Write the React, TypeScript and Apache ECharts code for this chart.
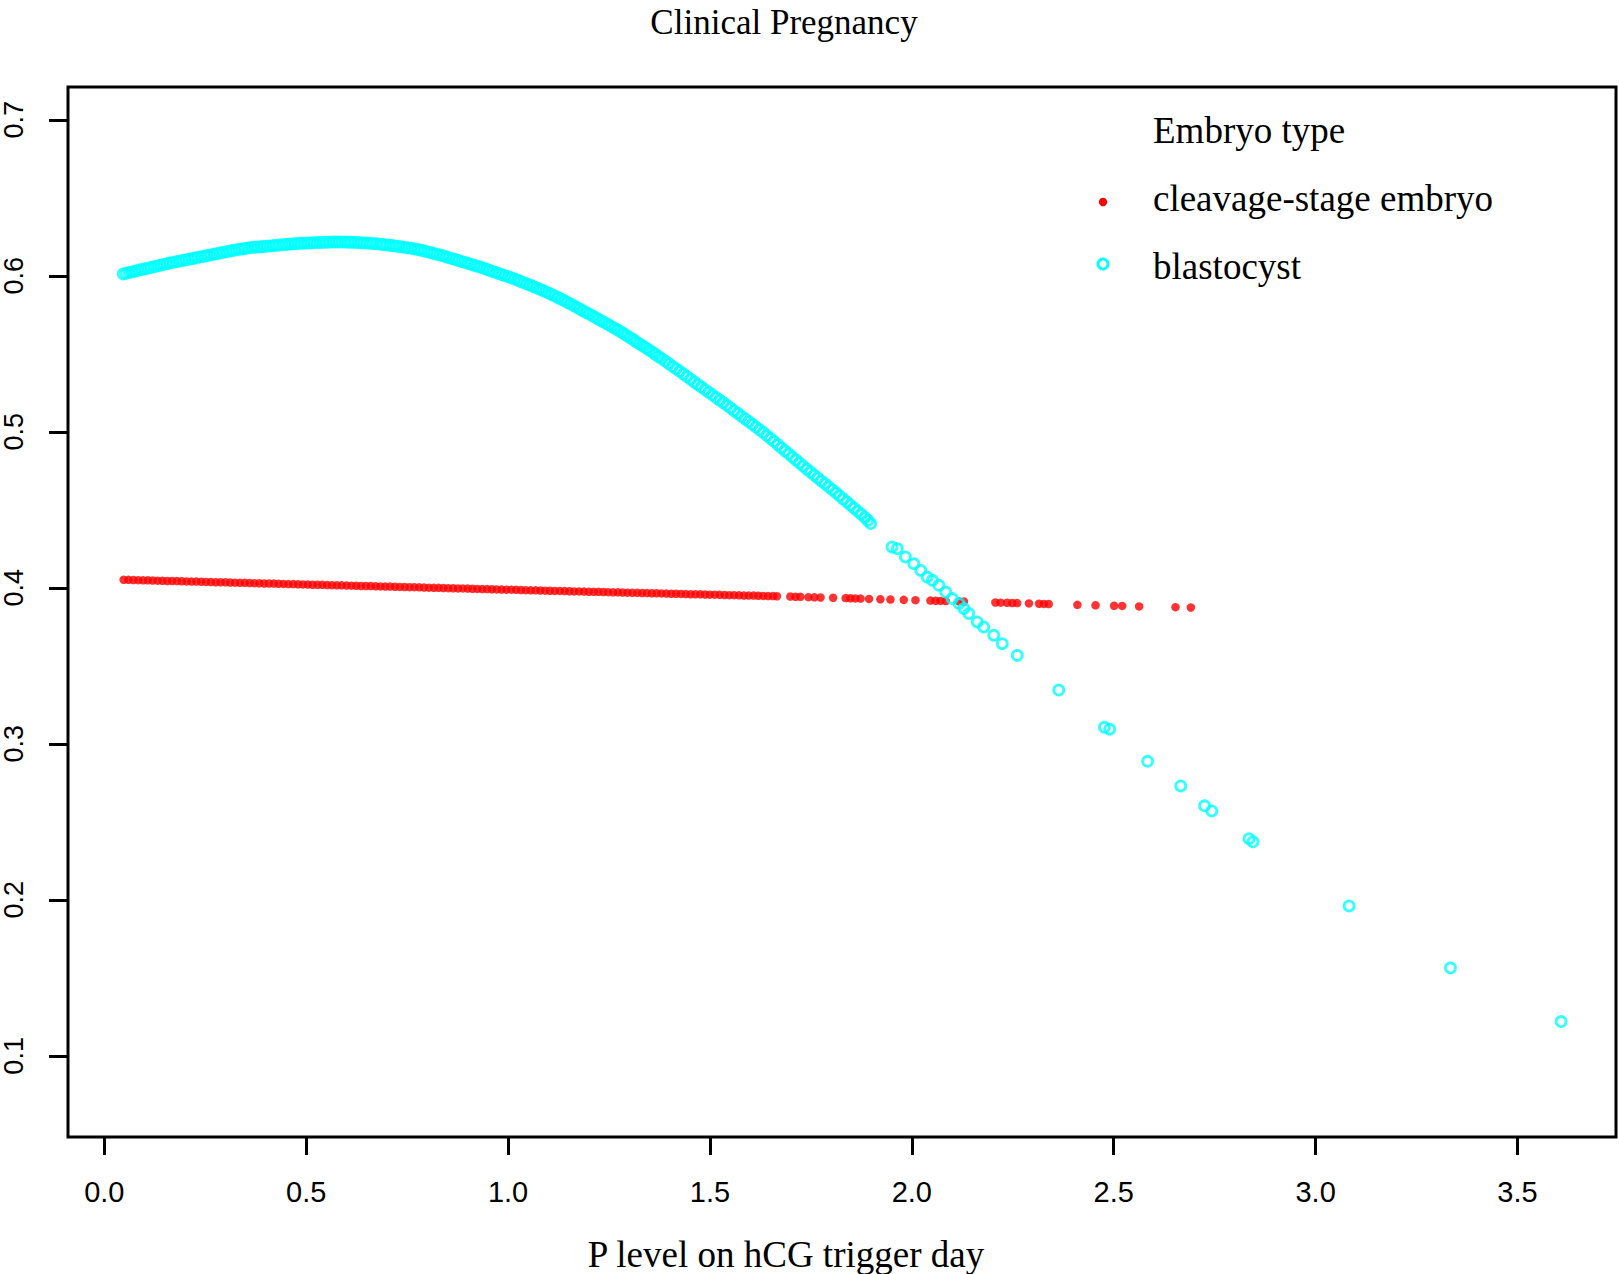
import React, { useEffect, useRef } from "react";
import * as echarts from "echarts";

const chartTitle = "Clinical Pregnancy";
const xAxisTitle = "P level on hCG trigger day";
const legendTitle = "Embryo type";
const seriesNames = ["cleavage-stage embryo", "blastocyst"];
const seriesColors = ["#ff0000", "#00ffff"];
const xTicks = [0, 0.5, 1, 1.5, 2, 2.5, 3, 3.5];
const yTicks = [0.1, 0.2, 0.3, 0.4, 0.5, 0.6, 0.7];

// cleavage-stage embryo (filled red dots)
const cleavage: number[][] = [
  [0.048, 0.4052], [0.06, 0.4051], [0.072, 0.405], [0.084, 0.4049], [0.096, 0.4048], [0.108, 0.4048],
  [0.12, 0.4047], [0.132, 0.4046], [0.144, 0.4045], [0.156, 0.4044], [0.168, 0.4044], [0.18, 0.4043],
  [0.192, 0.4042], [0.204, 0.4041], [0.216, 0.404], [0.228, 0.404], [0.24, 0.4039], [0.252, 0.4038],
  [0.264, 0.4037], [0.276, 0.4036], [0.288, 0.4036], [0.3, 0.4035], [0.312, 0.4034], [0.324, 0.4033],
  [0.336, 0.4032], [0.348, 0.4032], [0.36, 0.4031], [0.372, 0.403], [0.384, 0.4029], [0.396, 0.4028],
  [0.408, 0.4028], [0.42, 0.4027], [0.432, 0.4026], [0.444, 0.4025], [0.456, 0.4024], [0.468, 0.4024],
  [0.48, 0.4023], [0.492, 0.4022], [0.504, 0.4021], [0.516, 0.402], [0.528, 0.402], [0.54, 0.4019],
  [0.552, 0.4018], [0.564, 0.4017], [0.576, 0.4016], [0.588, 0.4016], [0.6, 0.4015], [0.612, 0.4014],
  [0.624, 0.4013], [0.636, 0.4012], [0.648, 0.4012], [0.66, 0.4011], [0.672, 0.401], [0.684, 0.4009],
  [0.696, 0.4008], [0.708, 0.4008], [0.72, 0.4007], [0.732, 0.4006], [0.744, 0.4005], [0.756, 0.4004],
  [0.768, 0.4004], [0.78, 0.4003], [0.792, 0.4002], [0.804, 0.4001], [0.816, 0.4], [0.828, 0.4],
  [0.84, 0.3999], [0.852, 0.3998], [0.864, 0.3997], [0.876, 0.3996], [0.888, 0.3996], [0.9, 0.3995],
  [0.912, 0.3994], [0.924, 0.3993], [0.936, 0.3992], [0.948, 0.3992], [0.96, 0.3991], [0.972, 0.399],
  [0.984, 0.3989], [0.996, 0.3988], [1.008, 0.3988], [1.02, 0.3987], [1.032, 0.3986], [1.044, 0.3985],
  [1.056, 0.3984], [1.068, 0.3984], [1.08, 0.3983], [1.092, 0.3982], [1.104, 0.3981], [1.116, 0.398],
  [1.128, 0.398], [1.14, 0.3979], [1.152, 0.3978], [1.164, 0.3977], [1.176, 0.3977], [1.188, 0.3976],
  [1.2, 0.3975], [1.212, 0.3974], [1.224, 0.3974], [1.236, 0.3973], [1.248, 0.3972], [1.26, 0.3971],
  [1.272, 0.3971], [1.284, 0.397], [1.296, 0.3969], [1.308, 0.3968], [1.32, 0.3968], [1.332, 0.3967],
  [1.344, 0.3966], [1.356, 0.3965], [1.368, 0.3965], [1.38, 0.3964], [1.392, 0.3963], [1.404, 0.3962],
  [1.416, 0.3962], [1.428, 0.3961], [1.44, 0.396], [1.452, 0.3959], [1.464, 0.3959], [1.476, 0.3958],
  [1.488, 0.3957], [1.5, 0.3956], [1.512, 0.3956], [1.524, 0.3955], [1.536, 0.3954], [1.548, 0.3953],
  [1.56, 0.3953], [1.572, 0.3952], [1.584, 0.3951], [1.596, 0.395], [1.608, 0.395], [1.62, 0.3949],
  [1.632, 0.3948], [1.644, 0.3947], [1.656, 0.3947], [1.666, 0.3946],
  [1.699, 0.3944], [1.712, 0.3943], [1.724, 0.3942], [1.744, 0.394], [1.759, 0.3939], [1.774, 0.3938],
  [1.805, 0.3936], [1.836, 0.3934], [1.848, 0.3933], [1.86, 0.3932], [1.873, 0.3931], [1.894, 0.3929],
  [1.922, 0.3927], [1.947, 0.3925], [1.98, 0.3923], [2.009, 0.3921], [2.046, 0.3918], [2.059, 0.3917],
  [2.071, 0.3916], [2.084, 0.3915], [2.117, 0.3913], [2.129, 0.3912], [2.207, 0.3906], [2.22, 0.3905],
  [2.236, 0.3904], [2.249, 0.3903], [2.261, 0.3902], [2.29, 0.39], [2.315, 0.3898], [2.327, 0.3897],
  [2.339, 0.3896], [2.41, 0.3891], [2.455, 0.3888], [2.501, 0.3885], [2.521, 0.3884], [2.563, 0.3881],
  [2.653, 0.3876], [2.691, 0.3874],
];

// blastocyst (open cyan circles)
const blastocyst: number[][] = [
  [0.047, 0.6012], [0.054, 0.6016], [0.062, 0.6021], [0.069, 0.6025], [0.077, 0.603], [0.084, 0.6035],
  [0.092, 0.604], [0.1, 0.6044], [0.108, 0.6049], [0.115, 0.6053], [0.123, 0.6058], [0.131, 0.6063],
  [0.139, 0.6068], [0.147, 0.6073], [0.155, 0.6078], [0.162, 0.6082], [0.17, 0.6086], [0.178, 0.609],
  [0.186, 0.6094], [0.193, 0.6098], [0.201, 0.6102], [0.209, 0.6106], [0.217, 0.611], [0.224, 0.6114],
  [0.232, 0.6118], [0.24, 0.6122], [0.248, 0.6126], [0.255, 0.613], [0.263, 0.6134], [0.271, 0.6138],
  [0.279, 0.6142], [0.286, 0.6146], [0.294, 0.615], [0.302, 0.6154], [0.31, 0.6158], [0.317, 0.6162],
  [0.325, 0.6165], [0.333, 0.6169], [0.341, 0.6172], [0.348, 0.6175], [0.356, 0.6178], [0.364, 0.6181],
  [0.372, 0.6183], [0.379, 0.6185], [0.387, 0.6186], [0.394, 0.6188], [0.402, 0.6189], [0.41, 0.6191],
  [0.418, 0.6193], [0.425, 0.6195], [0.433, 0.6197], [0.441, 0.6199], [0.449, 0.6201], [0.456, 0.6203],
  [0.464, 0.6204], [0.472, 0.6206], [0.48, 0.6207], [0.487, 0.6208], [0.495, 0.6209], [0.503, 0.621],
  [0.511, 0.6211], [0.518, 0.6212], [0.526, 0.6213], [0.534, 0.6214], [0.542, 0.6214], [0.549, 0.6215],
  [0.557, 0.6215], [0.565, 0.6216], [0.573, 0.6216], [0.58, 0.6216], [0.588, 0.6216], [0.596, 0.6216],
  [0.604, 0.6215], [0.611, 0.6215], [0.619, 0.6214], [0.627, 0.6213], [0.635, 0.6212], [0.642, 0.6211],
  [0.65, 0.621], [0.658, 0.6209], [0.666, 0.6207], [0.675, 0.6205], [0.684, 0.6202], [0.691, 0.62],
  [0.699, 0.6198], [0.707, 0.6196], [0.715, 0.6193], [0.722, 0.6191], [0.73, 0.6188], [0.738, 0.6185],
  [0.746, 0.6182], [0.753, 0.6179], [0.761, 0.6176], [0.769, 0.6172], [0.777, 0.6168], [0.784, 0.6164],
  [0.792, 0.6159], [0.8, 0.6154], [0.808, 0.6149], [0.815, 0.6144], [0.823, 0.6139], [0.831, 0.6134],
  [0.839, 0.6128], [0.846, 0.6122], [0.854, 0.6116], [0.862, 0.611], [0.87, 0.6104], [0.877, 0.6098],
  [0.885, 0.6092], [0.893, 0.6086], [0.901, 0.608], [0.908, 0.6074], [0.916, 0.6068], [0.923, 0.6062],
  [0.931, 0.6056], [0.939, 0.6049], [0.947, 0.6042], [0.954, 0.6035], [0.962, 0.6028], [0.97, 0.6021],
  [0.978, 0.6014], [0.985, 0.6007], [0.993, 0.6], [1.001, 0.5994], [1.008, 0.5987], [1.016, 0.598],
  [1.024, 0.5972], [1.031, 0.5964], [1.039, 0.5956], [1.047, 0.5948], [1.055, 0.594], [1.062, 0.5931],
  [1.07, 0.5923], [1.078, 0.5915], [1.085, 0.5907], [1.093, 0.5898], [1.101, 0.5889], [1.108, 0.588],
  [1.116, 0.587], [1.124, 0.586], [1.132, 0.585], [1.14, 0.584], [1.147, 0.5829], [1.155, 0.5819],
  [1.163, 0.5808], [1.171, 0.5797], [1.179, 0.5786], [1.186, 0.5775], [1.194, 0.5764], [1.202, 0.5753],
  [1.21, 0.5742], [1.218, 0.5731], [1.225, 0.572], [1.233, 0.5709], [1.241, 0.5697], [1.249, 0.5686],
  [1.256, 0.5675], [1.264, 0.5664], [1.272, 0.5652], [1.28, 0.564], [1.287, 0.5628], [1.295, 0.5615],
  [1.303, 0.5602], [1.311, 0.5589], [1.318, 0.5576], [1.326, 0.5563], [1.334, 0.555], [1.342, 0.5537],
  [1.35, 0.5523], [1.358, 0.551], [1.365, 0.5496], [1.373, 0.5482], [1.381, 0.5468], [1.39, 0.5452],
  [1.398, 0.5437], [1.407, 0.542], [1.416, 0.5404], [1.425, 0.5388], [1.434, 0.5371], [1.443, 0.5354],
  [1.452, 0.5337], [1.461, 0.532], [1.47, 0.5303], [1.479, 0.5287], [1.488, 0.527], [1.497, 0.5254],
  [1.506, 0.5237], [1.515, 0.522], [1.524, 0.5203], [1.533, 0.5187], [1.542, 0.517], [1.551, 0.5153],
  [1.56, 0.5135], [1.569, 0.5118], [1.578, 0.51], [1.587, 0.5083], [1.596, 0.5066], [1.605, 0.5049],
  [1.614, 0.5031], [1.623, 0.5013], [1.632, 0.4995], [1.641, 0.4976], [1.65, 0.4957], [1.659, 0.4938],
  [1.668, 0.4918], [1.677, 0.4898], [1.686, 0.4878], [1.695, 0.4859], [1.704, 0.4839], [1.713, 0.482],
  [1.722, 0.48], [1.731, 0.4781], [1.74, 0.4761], [1.749, 0.4742], [1.758, 0.4723], [1.767, 0.4704],
  [1.776, 0.4685], [1.785, 0.4667], [1.794, 0.4648], [1.803, 0.4629], [1.812, 0.4609], [1.821, 0.459],
  [1.83, 0.457], [1.839, 0.4551], [1.848, 0.4531], [1.857, 0.4511], [1.866, 0.4491], [1.875, 0.4471],
  [1.884, 0.4451], [1.891, 0.4432], [1.898, 0.4412],
  [1.951, 0.4262], [1.964, 0.4251], [1.984, 0.4198], [2.005, 0.4155], [2.022, 0.4112], [2.038, 0.4069],
  [2.051, 0.4048], [2.067, 0.4016], [2.084, 0.3973], [2.1, 0.3931], [2.117, 0.3899], [2.129, 0.3867],
  [2.141, 0.3835], [2.162, 0.3781], [2.178, 0.3749], [2.203, 0.3696], [2.224, 0.3642], [2.261, 0.3567],
  [2.364, 0.3345], [2.477, 0.3106], [2.49, 0.3094], [2.584, 0.2888], [2.666, 0.273], [2.725, 0.2603],
  [2.743, 0.257], [2.835, 0.2392], [2.845, 0.2372], [3.083, 0.1961], [3.334, 0.1564], [3.608, 0.122],
];

export default function App() {
  const ref = useRef<HTMLDivElement>(null);
  useEffect(() => {
    if (!ref.current) return;
    const chart = echarts.init(ref.current, null, { renderer: "svg" });
    const serif = '"Liberation Serif", "Times New Roman", serif';
    const sans = '"Liberation Sans", Arial, sans-serif';
    const txt = (text: string, x: number, y: number, size: number, align: string) => ({
      type: "text",
      x,
      y,
      style: {
        text,
        fontSize: size,
        fontFamily: serif,
        fill: "#000",
        align,
        verticalAlign: "middle",
        textAlign: align,
        textVerticalAlign: "middle",
      },
    });
    chart.setOption({
      animation: false,
      backgroundColor: "#ffffff",
      grid: {
        left: 68,
        top: 87,
        width: 1548,
        height: 1050,
        show: true,
        borderColor: "#000",
        borderWidth: 3,
        backgroundColor: "transparent",
      },
      xAxis: {
        type: "value",
        min: -0.0899,
        max: 3.744,
        splitLine: { show: false },
        axisLine: { show: false, onZero: false },
        axisTick: {
          show: true,
          customValues: xTicks,
          length: 18,
          lineStyle: { color: "#000", width: 3 },
        },
        axisLabel: {
          customValues: xTicks,
          formatter: (v: number) => v.toFixed(1),
          fontSize: 29,
          fontFamily: sans,
          color: "#000",
          margin: 40,
        },
      },
      yAxis: {
        type: "value",
        min: 0.048,
        max: 0.721,
        splitLine: { show: false },
        axisLine: { show: false, onZero: false },
        axisTick: {
          show: true,
          customValues: yTicks,
          length: 19,
          lineStyle: { color: "#000", width: 3 },
        },
        axisLabel: {
          customValues: yTicks,
          formatter: (v: number) => v.toFixed(1),
          fontSize: 27,
          fontFamily: sans,
          color: "#000",
          rotate: 90,
          margin: 41,
        },
      },
      series: [
        {
          type: "scatter",
          name: seriesNames[0],
          data: cleavage,
          symbol: "circle",
          symbolSize: 8.5,
          itemStyle: { color: seriesColors[0] },
        },
        {
          type: "scatter",
          name: seriesNames[1],
          data: blastocyst,
          symbol: "circle",
          symbolSize: 10,
          itemStyle: {
            color: "rgba(0,0,0,0)",
            borderColor: seriesColors[1],
            borderWidth: 2.8,
          },
        },
      ],
      graphic: [
        txt(chartTitle, 784, 22, 35, "center"),
        txt(xAxisTitle, 786, 1254, 37, "center"),
        txt(legendTitle, 1153, 130, 37, "left"),
        txt(seriesNames[0], 1153, 198, 37, "left"),
        txt(seriesNames[1], 1153, 266, 37, "left"),
        {
          type: "circle",
          shape: { cx: 1103, cy: 202, r: 4.2 },
          style: { fill: seriesColors[0], stroke: "none" },
        },
        {
          type: "circle",
          shape: { cx: 1103, cy: 264, r: 5 },
          style: { fill: "none", stroke: seriesColors[1], lineWidth: 2.8 },
        },
      ],
    });
    return () => chart.dispose();
  }, []);
  return (
    <div
      ref={ref}
      style={{ position: "fixed", left: 0, top: 0, width: 1619, height: 1274 }}
    />
  );
}
